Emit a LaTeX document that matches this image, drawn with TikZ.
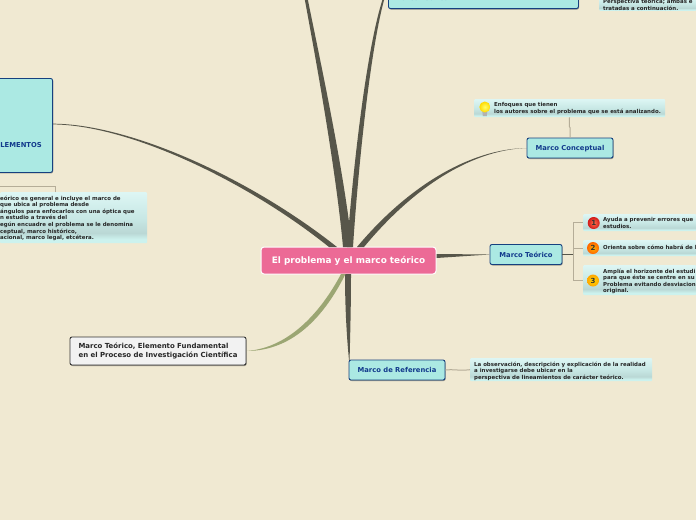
\documentclass[tikz,border=0pt]{standalone}
\usepackage{fontspec}
\setmainfont{DejaVu Sans}
\usetikzlibrary{shadows,calc}
\definecolor{paper}{HTML}{F0E9D2}
\definecolor{trunk}{HTML}{57564A}
\definecolor{olive}{HTML}{9BA673}
\definecolor{twig}{HTML}{B5AD98}
\definecolor{navy}{HTML}{123A8C}
\definecolor{edgeblue}{HTML}{16407F}
\definecolor{aqua}{HTML}{ABE9E3}
\definecolor{pinkroot}{HTML}{EC6A96}
\definecolor{noteink}{HTML}{262626}
\definecolor{noteband}{HTML}{BAD8D5}
\definecolor{notemid}{HTML}{C8E8E5}
\definecolor{notetop}{HTML}{DDF6F4}
\definecolor{notefoot}{HTML}{CCF2EE}
\pgfdeclareverticalshading{notefade}{100bp}{
  color(0bp)=(notefoot); color(25bp)=(notefoot); color(29bp)=(notefoot); color(35bp)=(noteband);
  color(50bp)=(notemid); color(75bp)=(notetop); color(100bp)=(notetop)}
\tikzset{
  topic/.style={draw=edgeblue,line width=.9pt,fill=aqua,rounded corners=2pt,
    inner sep=0pt,text=navy,text height=6.5pt,text depth=1.4pt,font=\bfseries\fontsize{6.8}{8}\selectfont,
    drop shadow={shadow xshift=.6pt,shadow yshift=-1pt,fill=black,opacity=.35}},
  rootbox/.style={draw=white,line width=1pt,fill=pinkroot,rounded corners=3pt,inner sep=0pt,
    text=white,text height=8pt,text depth=1.8pt,font=\bfseries\fontsize{8.9}{10}\selectfont},
  plainbox/.style={draw=black!80,line width=.9pt,fill=black!5,rounded corners=2pt,inner sep=0pt,
    text=black!85,font=\bfseries\fontsize{6.95}{9}\selectfont,
    drop shadow={shadow xshift=.6pt,shadow yshift=-1pt,fill=black,opacity=.35}},
  notebox/.style={rounded corners=1pt,inner sep=0pt,shading=notefade},
  notetext/.style={inner sep=0pt,anchor=north west,align=left,text=noteink,
    font=\bfseries\fontsize{5.45}{6.6}\selectfont},
  twigline/.style={draw=twig,line width=1pt},
  badge/.style={circle,draw=none,minimum size=12pt,inner sep=0pt,text=black!80,shading=radial,
    font=\bfseries\fontsize{7}{7}\selectfont},
}
\begin{document}
\begin{tikzpicture}[x=1pt,y=-1pt]
\useasboundingbox (0,0) rectangle (696,520);
\clip (0,0) rectangle (696,520);
\fill[paper] (0,0) rectangle (696,520);
% nodes
\node[rootbox,minimum width=175pt,minimum height=27pt] (root) at (348.5,260.5) {El problema y el marco teórico};
\node[topic,minimum width=86pt,minimum height=20pt] (concept) at (570,148) {Marco Conceptual};
\node[topic,minimum width=72pt,minimum height=20pt] (teorico) at (526,254.5) {Marco Teórico};
\node[topic,minimum width=96pt,minimum height=20pt] (referencia) at (397,370) {Marco de Referencia};
\node[plainbox,minimum width=176pt,minimum height=28pt,align=left] (fund) at (158,351) {Marco Teórico, Elemento Fundamental\\en el Proceso de Investigación Científica};
\node[topic,minimum width=190pt,minimum height=30pt,anchor=south west] (toptopic) at (388,9) {};
\node[topic,minimum width=73pt,minimum height=94pt,anchor=north east] (elementos) at (53,78) {};
\node[inner sep=0pt,anchor=east,text=navy,font=\bfseries\fontsize{6.8}{8}\selectfont] (elemtext) at (42,145) {ELEMENTOS};
\node[inner sep=0pt,anchor=west,text=navy,font=\bfseries\fontsize{6.8}{8}\selectfont] (toptext) at (395,-2) {Marco Teórico};
% free ends of the branches that leave the picture
\coordinate (upl) at (304.5,-2);
\coordinate (upr) at (383,-2);
% tapered branches
\fill[trunk] (343,247) .. controls (336,170) and (316,60) .. (upl) -- ++(3,0) .. controls (320,60) and (344,170) .. (352,247) -- cycle;
\fill[trunk] (347,247) .. controls (353,170) and (366,50) .. (upr) -- ++(1.6,0) .. controls (370,50) and (358,170) .. (353,247) -- cycle;
\fill[trunk] (elementos.east|-0,123.7) .. controls (130,124) and (250,178) .. (337,247) -- (329,247) .. controls (248,182) and (130,125) .. (elementos.east|-0,124.4) -- cycle;
\fill[trunk] (concept.west) .. controls (470,149) and (408,186) .. (357,247) -- (364,247) .. controls (412,189) and (470,150) .. (concept.west) -- cycle;
\fill[trunk] (teorico.west) -- (436.5,254) -- (436.5,258) -- cycle;
\fill[trunk] (345,274) .. controls (345,310) and (347,340) .. (349,360) -- (349.6,360) .. controls (350,340) and (351,310) .. (351,274) -- cycle;
\fill[olive] (341,274) .. controls (322,310) and (290,348) .. (fund.east) -- (fund.east) .. controls (295,351) and (326,313) .. (345.5,274) -- cycle;
% notes
\node[notebox,minimum width=191pt,minimum height=18pt,anchor=north west] (n1) at (474,99) {};
\node[notetext] (n1t) at (494,102.5) {Enfoques que tienen\\los autores sobre el problema que se está analizando.};
\node[notebox,minimum width=113pt,minimum height=17pt,anchor=north west] (a1) at (583,214) {};
\node[notetext] (a1t) at (603,217.5) {Ayuda a prevenir errores que\\estudios.};
\node[notebox,minimum width=113pt,minimum height=16pt,anchor=north west] (a2) at (583,240) {};
\node[notetext] (a2t) at (603,245) {Orienta sobre cómo habrá de l};
\node[notebox,minimum width=113pt,minimum height=30pt,anchor=north west] (a3) at (583,265) {};
\node[notetext] (a3t) at (603,268.5) {Amplía el horizonte del estudi\\para que éste se centre en su\\Problema evitando desviacion\\original.};
\node[notebox,minimum width=182pt,minimum height=23pt,anchor=north west] (r1) at (470,358) {};
\node[notetext] (r1t) at (474,361.5) {La observación, descripción y explicación de la realidad\\a investigarse debe ubicar en la\\perspectiva de lineamientos de carácter teórico.};
\node[notebox,minimum width=147pt,minimum height=51pt,anchor=north west] (e1) at (0,192) {};
\node[notetext] (e1t) at (0,195.5) {eórico es general e incluye el marco de\\que ubica al problema desde\\ángulos para enfocarlos con una óptica que\\n estudio a través del\\egún encuadre el problema se le denomina\\ceptual, marco histórico,\\acional, marco legal, etcétera.};
\node[notebox,minimum width=97pt,minimum height=14pt,anchor=south west] (t1) at (599,11) {};
\node[notetext] (t1t) at (603,-1) {Perspectiva teórica; ambas e\\tratadas a continuación.};
% thin branches
\coordinate (fork) at (573,254.5);
\draw[trunk,line width=1pt] (teorico.east) -- (fork);
\draw[twigline] (fork) |- (a1.west);
\draw[twigline] (fork) |- (a2.west);
\draw[twigline] (fork) |- (a3.west);
\draw[twigline] (concept.north) -- ++(0,-10) -- ++(-.7,-1) -- (n1.south-|569.5,0);
\draw[twigline] (referencia.east) .. controls (455,369) and (458,371) .. (r1.west);
\draw[twigline] (e1.north-|55,0) -- (55,186) -- (0,186);
\draw[twigline] (t1.north-|590,0) ++(0,-11) -- ++(9,0);
% icons
\node[badge,inner color=red!60!orange!70,outer color=red!80!black!90] (b1) at (593.7,223) {1};
\node[badge,inner color=orange!60!yellow,outer color=orange!80!red] (b2) at (593,248) {2};
\node[badge,inner color=yellow!70!orange,outer color=orange!70!yellow] (b3) at (593,280.5) {3};
\fill[black!30] (482.3,111) -- (487.3,111) -- (486.8,116) -- (482.8,116) -- cycle;
\node[circle,inner color=yellow!60!white,outer color=yellow!70!orange,minimum size=11pt,inner sep=0pt] (bulb) at (484.8,107) {};
\end{tikzpicture}
\end{document}
